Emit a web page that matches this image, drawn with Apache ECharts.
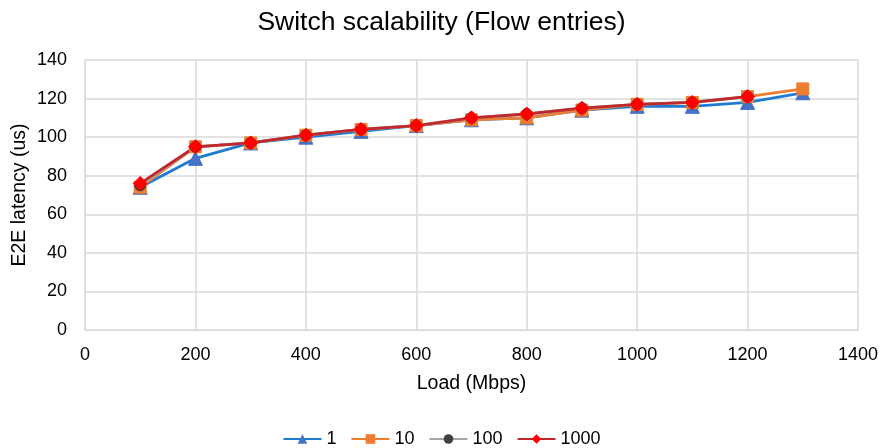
<!DOCTYPE html>
<html><head><meta charset="utf-8">
<script src="https://cdn.jsdelivr.net/npm/echarts@6/dist/echarts.min.js"></script>
<style>html,body{margin:0;padding:0;background:#fff}#c{width:883px;height:448px}</style>
</head><body><div id="c"></div>
<script>
const loads = [100,200,300,400,500,600,700,800,900,1000,1100,1200,1300];
const s1    = [74,89,97,100,103,106,109,110,114,116,116,118,123];
const s10   = [74,95,97,101,104,106,109,110,114,117,118,121,125];
const s100  = [75,95,97,101,104,106,110,112,115,117,118,121];
const s1000 = [76,95,97,101,104,106,110,112,115,117,118,121];
const names = ['1','10','100','1000'];

const font = 'Liberation Sans, Arial, sans-serif';
function pairs(v){ return v.map((y,i)=>[loads[i],y]); }
function ser(name, data, lineColor, markColor, symbol, size){
  return {name, type:'line', data:pairs(data), symbol, symbolSize:size,
    lineStyle:{color:lineColor,width:2.8}, itemStyle:{color:markColor,borderColor:markColor},
    emphasis:{disabled:true}};
}
const chart = echarts.init(document.getElementById('c'));
chart.setOption({
  animation:false,
  textStyle:{fontFamily:font},
  title:{text:'Switch scalability (Flow entries)', left:'center', top:4,
    textStyle:{fontSize:26.5,fontWeight:'normal',color:'#000',fontFamily:font}},
  legend:{top:425, left:'center', itemWidth:38, itemHeight:12, itemGap:14,
    textStyle:{fontSize:18,color:'#000',fontFamily:font},
    data:names},
  grid:{left:85, right:25, top:60, bottom:118, containLabel:false, outerBoundsMode:'none'},
  xAxis:{type:'value', min:0, max:1400, interval:200,
    name:'Load (Mbps)', nameLocation:'middle', nameGap:44,
    nameTextStyle:{fontSize:19.5,color:'#000',fontFamily:font,verticalAlign:'top'},
    axisLine:{show:true,lineStyle:{color:'#d9d9d9'}}, axisTick:{show:false},
    axisLabel:{fontSize:18,color:'#000',margin:16,formatter:v=>String(v)},
    splitLine:{show:true,lineStyle:{color:'#d9d9d9',width:1.5}}},
  yAxis:{type:'value', min:0, max:140, interval:20,
    name:'E2E latency (us)', nameLocation:'middle', nameGap:65, nameRotate:90,
    nameMoveOverlap:false,
    nameTextStyle:{fontSize:19.5,color:'#000',fontFamily:font,verticalAlign:'middle'},
    axisLine:{show:true,lineStyle:{color:'#d9d9d9'}}, axisTick:{show:false},
    axisLabel:{fontSize:18,color:'#000',margin:18,formatter:v=>String(v)},
    splitLine:{show:true,lineStyle:{color:'#d9d9d9',width:1.5}}},
  series:[
    ser('1', s1, '#1f7bd0', '#4472c4', 'triangle', 14),
    ser('10', s10, '#ed7d31', '#ed7d31', 'rect', 12),
    ser('100', s100, '#a5a5a5', '#404040', 'circle', 11),
    ser('1000', s1000, '#c0282d', '#ff0000', 'diamond', 14)
  ]
});
</script></body></html>
